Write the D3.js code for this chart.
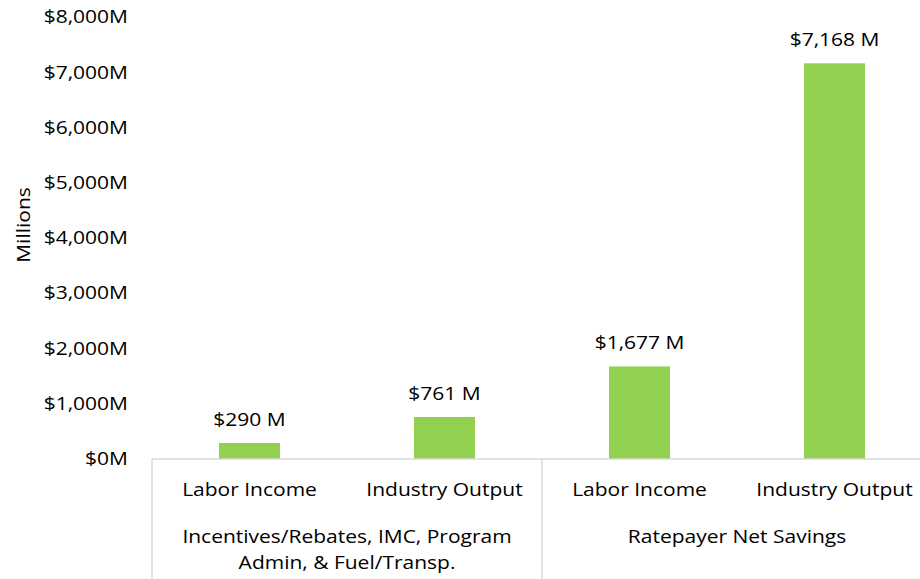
<!DOCTYPE html>
<html><head><meta charset="utf-8">
<script src="https://cdn.jsdelivr.net/npm/d3@7"></script>
<style>body{margin:0;background:#fff}svg{display:block}text{font-family:"Open Sans",sans-serif;fill:#000}</style>
</head><body><svg id="c" width="920" height="579"></svg>
<script>
const categories = ["Labor Income","Industry Output","Labor Income","Industry Output"];
const groups = [["Incentives/Rebates, IMC, Program","Admin, & Fuel/Transp."],["Ratepayer Net Savings"]];
const values = [290, 761, 1677, 7168];
const valueLabels = ["$290 M","$761 M","$1,677 M","$7,168 M"];
const yTicks = [0,1000,2000,3000,4000,5000,6000,7000,8000];
const yTitle = "Millions";

const svg = d3.select("#c");
const pLeft = 152, pRight = 932, pBase = 459, pTop = 17.4;
const x = d3.scaleBand().domain(d3.range(categories.length)).range([pLeft,pRight]).paddingInner(0);
const y = d3.scaleLinear().domain([0,8000]).range([pBase,pTop]);
const barW = 61;
const fs = 17.5, sx = 1.2;

function label(tx, ty, str, anchor, rot){
  svg.append("text")
    .attr("transform", `translate(${tx},${ty})` + (rot ? ` rotate(${rot})` : "") + ` scale(${sx},1)`)
    .attr("text-anchor", anchor).attr("font-size", fs).text(str);
}

svg.selectAll("rect.bar").data(values).join("rect")
  .attr("x",(d,i)=>x(i)+x.bandwidth()/2-barW/2)
  .attr("width",barW)
  .attr("y",d=>y(d)).attr("height",d=>pBase-y(d))
  .attr("fill","#92D050");

values.forEach((d,i)=>label(x(i)+x.bandwidth()/2, y(d)-17, valueLabels[i], "middle"));

yTicks.forEach(d=>label(128, y(d)+6, "$"+d3.format(",")(d)+"M", "end"));

label(30, 225, yTitle, "middle", -90);

const lc = "#d9d9d9";
svg.append("line").attr("x1",pLeft).attr("x2",pRight).attr("y1",pBase).attr("y2",pBase).attr("stroke",lc).attr("stroke-width",1.5);
[0,2].forEach(i=>{
  const xx = x(i);
  svg.append("line").attr("x1",xx).attr("x2",xx).attr("y1",pBase).attr("y2",579).attr("stroke",lc).attr("stroke-width",1.5);
});

categories.forEach((d,i)=>label(x(i)+x.bandwidth()/2, 496, d, "middle"));

groups.forEach((lines,g)=>{
  const cx = x(g*2)+x.bandwidth();
  lines.forEach((t,k)=>label(cx, 543+k*26, t, "middle"));
});
</script></body></html>
